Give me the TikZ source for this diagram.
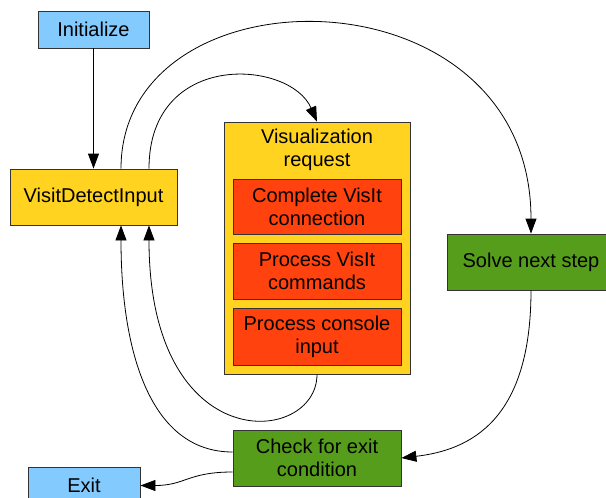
\documentclass[tikz,border=0pt]{standalone}
\usepackage{fontspec}
\setmainfont{Liberation Sans}
\usetikzlibrary{arrows.meta,calc}
\definecolor{lblue}{HTML}{83CAFF}
\definecolor{lyellow}{HTML}{FFD320}
\definecolor{lorange}{HTML}{FF420E}
\definecolor{lgreen}{HTML}{579D1C}
\definecolor{bord}{HTML}{333333}
\begin{document}
\begin{tikzpicture}[x=1pt,y=-1pt,
  box/.style={draw=bord, line width=0.8pt, inner sep=0pt, align=center, font=\fontsize{20}{23}\selectfont},
  arr/.style={-{Triangle[length=15pt,width=11pt]}, line width=0.8pt, draw=black}]
\useasboundingbox (0,0) rectangle (606,498);
\clip (0,0) rectangle (606,498);
\node[box, fill=lblue, minimum width=111pt, minimum height=37pt] (init) at (93.5,29.5) {Initialize};
\node[box, fill=lyellow, minimum width=167pt, minimum height=56pt] (vdi) at (93.5,197) {VisitDetectInput};
\node[box, fill=lyellow, minimum width=186pt, minimum height=252pt] (vis) at (317,248) {};
\node[inner sep=0pt, anchor=north, align=center, font=\fontsize{20}{23}\selectfont] (vistitle) at (317,128.5) {Visualization\\request};
\node[box, fill=lorange, minimum width=168pt, minimum height=55pt] (c1) at (317,206.5) {Complete VisIt\\connection};
\node[box, fill=lorange, minimum width=168pt, minimum height=56pt] (c2) at (317,271) {Process VisIt\\commands};
\node[box, fill=lorange, minimum width=168pt, minimum height=57pt] (c3) at (317,336.5) {Process console\\input};
\node[box, fill=lgreen, minimum width=168pt, minimum height=56pt] (solve) at (531,262) {Solve next step};
\node[box, fill=lgreen, minimum width=168pt, minimum height=56pt] (check) at (317,458) {Check for exit\\condition};
\node[box, fill=lblue, minimum width=112pt, minimum height=37pt] (exit) at (84,485.5) {Exit};

\draw[arr] (init) -- (vdi);
\draw[arr] ($(vdi.north)+(27.5,0)$) .. controls +(0,-204) and +(0,-269) .. (solve.north);
\draw[arr] ($(vdi.north)+(55.5,0)$) .. controls +(0,-119) and +(-27,-62) .. (vis.north);
\draw[arr] (vis.south) .. controls +(0,71) and +(0,235) .. ($(vdi.south)+(55.5,0)$);
\draw[arr] ($(check.west)+(0,-6)$) .. controls +(-83,0) and +(0,125) .. ($(vdi.south)+(27.5,0)$);
\draw[arr] ($(check.west)+(0,14)$) .. controls +(-45,0) and +(45,0) .. (exit.east);
\draw[arr] (solve.south) .. controls +(0,130) and +(69,-8) .. (check.east);
\end{tikzpicture}
\end{document}
